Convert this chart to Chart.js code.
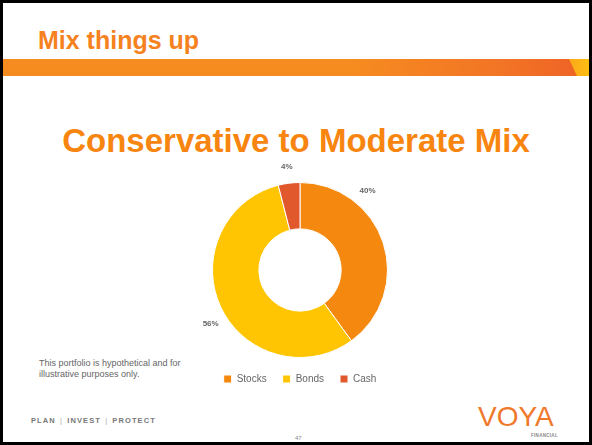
<!DOCTYPE html>
<html>
<head>
<meta charset="utf-8">
<script src="https://cdn.jsdelivr.net/npm/chart.js@4/dist/chart.umd.min.js"></script>
<style>
  html, body { margin: 0; padding: 0; }
  body { width: 592px; height: 445px; background: #000; position: relative; overflow: hidden; font-family: "Liberation Sans", Arial, sans-serif; }
  #slide { position: absolute; left: 3px; top: 3px; width: 586px; height: 439px; background: #fff; overflow: hidden; }
  .abs { position: absolute; white-space: nowrap; }
  #head { left: 35px; top: 25px; font-size: 25px; line-height: 25px; font-weight: bold; color: #F5821F; }
  #bar { left: 0; top: 56px; width: 586px; height: 17px; background: linear-gradient(90deg, #F68C1F 0%, #F68B20 60%, #F27425 85%, #EF6526 97%); }
  #wedge { left: 560px; top: 56px; width: 26px; height: 17px; background: linear-gradient(90deg, #F9A21B, #FDBE13); clip-path: polygon(6px 0, 26px 0, 26px 17px, 14px 17px); }
  #title { left: 0; width: 586px; top: 121px; text-align: center; font-size: 33px; line-height: 33px; font-weight: bold; color: #F7850F; }
  #note { left: 36px; top: 355px; font-size: 9px; line-height: 11px; color: #666; }
  #tag { left: 28px; top: 413px; font-size: 7.5px; font-weight: bold; letter-spacing: 1.1px; word-spacing: 1px; color: #777; }
  #tag span { color: #aaa; font-weight: normal; }
  #page { left: 292px; top: 432px; font-size: 6px; color: #888; }
  #logo { left: 475px; top: 400px; font-size: 28px; line-height: 28px; color: #F0782A; }
  #fin { left: 528px; top: 430px; font-size: 4.5px; line-height: 5px; font-weight: bold; color: #888; letter-spacing: 0.3px; }
  #chartBox { position: absolute; left: 187px; top: 154px; width: 220px; height: 237px; }
</style>
</head>
<body>
<div id="slide">
  <div class="abs" id="head">Mix things up</div>
  <div class="abs" id="bar"></div>
  <div class="abs" id="wedge"></div>
  <div class="abs" id="title">Conservative to Moderate Mix</div>
  <div class="abs" id="note">This portfolio is hypothetical and for<br>illustrative purposes only.</div>
  <div class="abs" id="tag">PLAN <span>|</span> INVEST <span>|</span> PROTECT</div>
  <div class="abs" id="page">47</div>
  <div class="abs" id="logo">VOYA</div>
  <div class="abs" id="fin">FINANCIAL</div>
  <div id="chartBox"><canvas id="c"></canvas></div>
</div>
<script>
const categories = ['Stocks', 'Bonds', 'Cash'];
const shares = [40, 56, 4];
const colors = ['#F5890F', '#FFC502', '#E0582C'];

// where along each slice the outside label sits (0 = start, 1 = end)
const labelSpot = [0.28, 0.47, 0.5];

const outsideLabels = {
  id: 'outsideLabels',
  afterDatasetsDraw(chart) {
    const ctx = chart.ctx;
    const arcs = chart.getDatasetMeta(0).data;
    ctx.save();
    ctx.font = 'bold 8px "Liberation Sans", Arial, sans-serif';
    ctx.fillStyle = '#666';
    ctx.textAlign = 'center';
    ctx.textBaseline = 'middle';
    arcs.forEach((arc, i) => {
      const a = arc.startAngle + (arc.endAngle - arc.startAngle) * labelSpot[i];
      const r = arc.outerRadius + 17;
      ctx.fillText(shares[i] + '%', arc.x + Math.cos(a) * r, arc.y + Math.sin(a) * r);
    });
    ctx.restore();
  }
};

new Chart(document.getElementById('c'), {
  type: 'doughnut',
  data: {
    labels: categories,
    datasets: [{
      data: shares,
      backgroundColor: colors,
      borderColor: '#fff',
      borderWidth: 1
    }]
  },
  options: {
    responsive: true,
    maintainAspectRatio: false,
    animation: false,
    cutout: '47%',
    layout: { padding: { top: 25 } },
    plugins: {
      legend: {
        position: 'bottom',
        labels: {
          boxWidth: 8,
          boxHeight: 8,
          padding: 16,
          color: '#666',
          font: { size: 10, family: '"Liberation Sans", Arial, sans-serif' }
        }
      },
      tooltip: { enabled: false }
    }
  },
  plugins: [outsideLabels]
});
</script>
</body>
</html>
